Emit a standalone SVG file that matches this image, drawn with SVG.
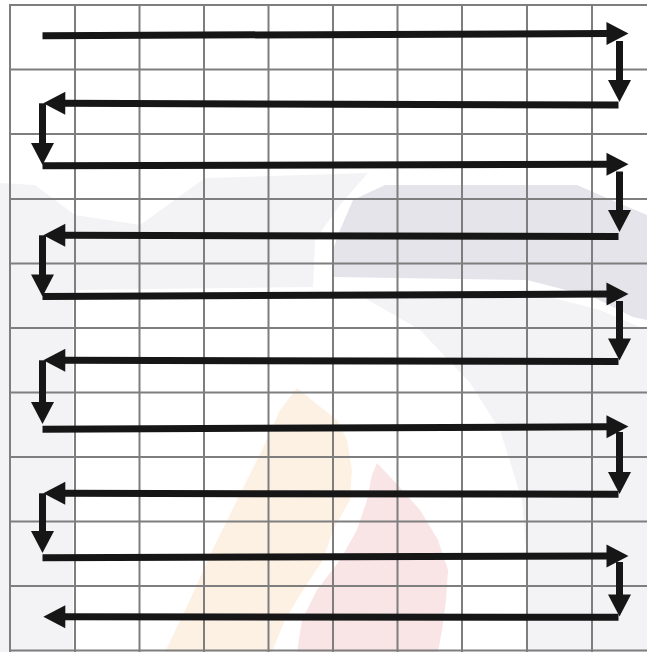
<svg xmlns="http://www.w3.org/2000/svg" width="647" height="652" viewBox="0 0 647 652">
  <style>
    .grid line { stroke: #7e7e7e; stroke-width: 2; }
    .arrow { fill: none; stroke: #161616; stroke-width: 7; stroke-linecap: butt; marker-end: url(#head); }
    .wm-light { fill: #f3f3f6; }
    .wm-dark { fill: #e4e4ea; }
    .wm-orange { fill: #fdf1e4; }
    .wm-pink { fill: #f9e4e6; }
  </style>
  <defs>
    <marker id="head" markerUnits="userSpaceOnUse" markerWidth="24" markerHeight="24" refX="1" refY="11.5" orient="auto" overflow="visible">
      <path d="M0,0 L22,11.5 L0,23 Z" fill="#161616"/>
    </marker>
  </defs>
  <rect x="0" y="0" width="647" height="652" fill="#ffffff"/>
  <g id="watermark">
    <polygon class="wm-light" points="0,183 35,185 75,215 140,225 205,178 368,173 340,205 315,240 313,287 73,290 73,652 0,652"/>
    <polygon class="wm-dark" points="385,185 577,185 600,195 647,215 647,320 633,317 593,297 527,280 333,277 333,250 340,230 353,200"/>
    <polygon class="wm-light" points="363,297 530,292 600,310 647,330 647,652 527,652 527,560 522,500 500,430 470,383 420,330"/>
    <polygon class="wm-orange" points="297,388 318,405 337,420 347,440 352,470 350,500 333,530 323,560 303,590 285,620 272,652 165,652 190,600 210,555 237,500 262,450 280,410"/>
    <polygon class="wm-pink" points="377,463 393,480 420,510 438,540 448,570 446,600 442,630 438,652 297,652 302,620 317,590 340,560 357,530 367,500 372,475"/>
  </g>
  <g id="grid" class="grid">
    <line x1="10" y1="4" x2="10" y2="652"/>
    <line x1="75" y1="4" x2="75" y2="652"/>
    <line x1="139.5" y1="4" x2="139.5" y2="652"/>
    <line x1="204" y1="4" x2="204" y2="652"/>
    <line x1="268.5" y1="4" x2="268.5" y2="652"/>
    <line x1="333" y1="4" x2="333" y2="652"/>
    <line x1="397.5" y1="4" x2="397.5" y2="652"/>
    <line x1="462" y1="4" x2="462" y2="652"/>
    <line x1="527" y1="4" x2="527" y2="652"/>
    <line x1="592" y1="4" x2="592" y2="652"/>
    <line x1="9" y1="5" x2="647" y2="5"/>
    <line x1="9" y1="69.5" x2="647" y2="69.5"/>
    <line x1="9" y1="134" x2="647" y2="134"/>
    <line x1="9" y1="199" x2="647" y2="199"/>
    <line x1="9" y1="263.5" x2="647" y2="263.5"/>
    <line x1="9" y1="328" x2="647" y2="328"/>
    <line x1="9" y1="392.5" x2="647" y2="392.5"/>
    <line x1="9" y1="457" x2="647" y2="457"/>
    <line x1="9" y1="521.5" x2="647" y2="521.5"/>
    <line x1="9" y1="586" x2="647" y2="586"/>
    <line x1="9" y1="650.5" x2="647" y2="650.5"/>
  </g>
  <g id="connectors">
    <path class="arrow" d="M42.5,35.7 L607.5,33.5"/>
    <path class="arrow" d="M619.5,41 L619.5,81"/>
    <path class="arrow" d="M618.5,105 L64.3,103.3"/>
    <path class="arrow" d="M42.5,103.3 L42.5,144"/>
    <path class="arrow" d="M42.5,165.7 L607.5,164.3"/>
    <path class="arrow" d="M619.5,171.5 L619.5,211"/>
    <path class="arrow" d="M618.5,236.5 L64.3,235.3"/>
    <path class="arrow" d="M42.5,235.3 L42.5,275.5"/>
    <path class="arrow" d="M42.5,296.5 L607.5,294"/>
    <path class="arrow" d="M619.5,301 L619.5,339.5"/>
    <path class="arrow" d="M618.5,361.5 L64.3,360.3"/>
    <path class="arrow" d="M42.5,360.3 L42.5,403"/>
    <path class="arrow" d="M42.5,429.3 L607.5,426.7"/>
    <path class="arrow" d="M619.5,432 L619.5,473"/>
    <path class="arrow" d="M618.5,494.3 L64.3,493.3"/>
    <path class="arrow" d="M42.5,493.3 L42.5,532"/>
    <path class="arrow" d="M42.5,557.7 L607.5,556"/>
    <path class="arrow" d="M619.5,562 L619.5,595.5"/>
    <path class="arrow" d="M618.5,617.3 L64.3,616.7"/>
  </g>
</svg>
